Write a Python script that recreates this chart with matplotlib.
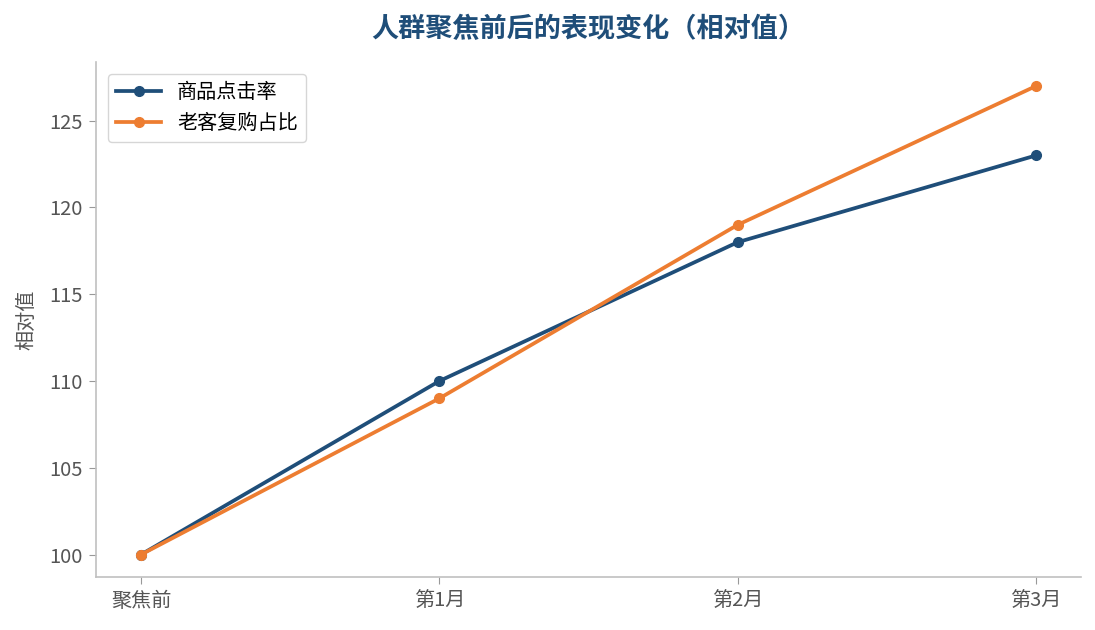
import numpy as np
import matplotlib
matplotlib.use("Agg")
import matplotlib.pyplot as plt

plt.rcParams['font.family'] = ['Noto Sans CJK SC', 'DejaVu Sans']

categories = ["聚焦前", "第1月", "第2月", "第3月"]
click_rate = [100, 110, 118, 123]
repurchase = [100, 109, 119, 127]
series_names = ["商品点击率", "老客复购占比"]

fig = plt.figure(figsize=(10.95, 6.3), dpi=100)
ax = fig.add_axes([0.088, 0.084, 0.899, 0.818])

x = np.arange(len(categories))
ax.plot(x, click_rate, color="#1f4e79", linewidth=2.7, marker="o", markersize=7, label=series_names[0])
ax.plot(x, repurchase, color="#ed7d31", linewidth=2.7, marker="o", markersize=7, label=series_names[1])

ax.set_xticks(x)
ax.set_xticklabels(categories)
ax.set_xlim(-0.15, 3.15)
ax.set_ylim(98.7, 128.4)
ax.set_yticks([100, 105, 110, 115, 120, 125])
ax.set_ylabel("相对值", fontsize=14.5, color="#555555", labelpad=8)
ax.set_title("人群聚焦前后的表现变化（相对值）", fontsize=19.5, fontweight="bold", color="#1f4e79", pad=18)

for s in ["top", "right"]:
    ax.spines[s].set_visible(False)
for s in ["left", "bottom"]:
    ax.spines[s].set_color("#c0c0c0")
    ax.spines[s].set_linewidth(1.2)
ax.tick_params(colors="#555555", labelsize=14.5)
ax.tick_params(axis="both", color="#999999", length=5, pad=5)

leg = ax.legend(loc="upper left", fontsize=14.5, frameon=True, fancybox=True,
                borderaxespad=0.6, handlelength=2.2)
leg.get_frame().set_edgecolor("#cccccc")

fig.savefig("out.png", dpi=100)
